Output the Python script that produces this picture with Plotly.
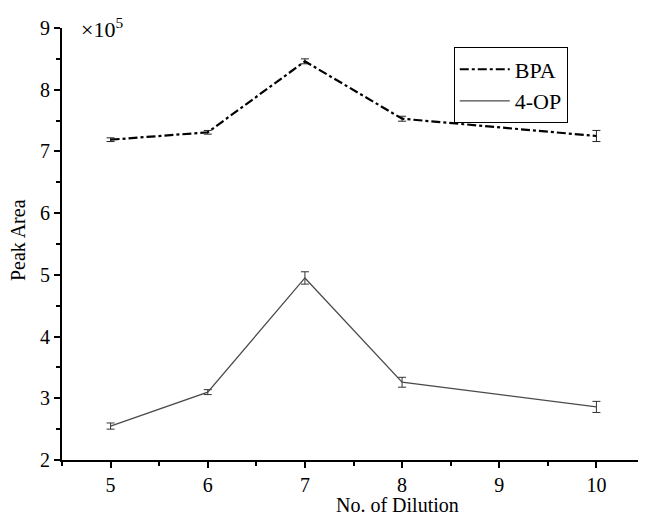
import plotly.graph_objects as go

dilution = [5, 6, 7, 8, 10]
bpa = [7.19, 7.31, 8.46, 7.53, 7.25]
bpa_err = [0.03, 0.03, 0.04, 0.04, 0.09]
op = [2.55, 3.10, 4.95, 3.26, 2.86]
op_err = [0.05, 0.04, 0.10, 0.08, 0.09]
x_ticks = [5, 6, 7, 8, 9, 10]
y_ticks = [2, 3, 4, 5, 6, 7, 8, 9]

FONT = "Liberation Serif"

fig = go.Figure()
fig.add_trace(go.Scatter(
    x=dilution, y=bpa, name="BPA", mode="lines",
    line=dict(color="black", width=2.2, dash="dashdot"),
    error_y=dict(type="data", array=bpa_err, color="#222", thickness=1, width=4),
))
fig.add_trace(go.Scatter(
    x=dilution, y=op, name="4-OP", mode="lines",
    line=dict(color="#4a4a4a", width=1.3),
    error_y=dict(type="data", array=op_err, color="#333", thickness=1, width=4),
))

axis_common = dict(
    showline=True, linecolor="black", linewidth=2, ticks="outside",
    ticklen=6, tickwidth=1.5, tickcolor="black", showgrid=False, zeroline=False,
    tickfont=dict(family=FONT, size=20, color="black"),
    mirror=False, automargin=False,
)
fig.update_layout(
    width=638, height=509,
    margin=dict(l=54, r=1, t=20, b=57),
    plot_bgcolor="white", paper_bgcolor="white",
    font=dict(family=FONT, color="black"),
    xaxis=dict(range=[4.5, 10.5], tickvals=x_ticks,
               minor=dict(dtick=0.5, tick0=4.5, ticks="outside", ticklen=4, tickwidth=1.5, tickcolor="black"),
               **axis_common),
    yaxis=dict(range=[2, 9], tickvals=y_ticks,
               minor=dict(dtick=0.5, tick0=2, ticks="outside", ticklen=4, tickwidth=1.5, tickcolor="black"),
               **axis_common),
    legend=dict(x=0.672, y=0.955, xanchor="left", yanchor="top",
                bordercolor="black", borderwidth=1, bgcolor="white",
                font=dict(family=FONT, size=22), itemwidth=50, tracegroupgap=0),
    showlegend=True,
)
fig.add_annotation(x=0.575, y=-0.104, xref="paper", yref="paper", xanchor="center", yanchor="middle",
                   text="No. of Dilution", showarrow=False,
                   font=dict(family=FONT, size=20, color="black"))
fig.add_annotation(x=-0.0755, y=0.509, xref="paper", yref="paper", xanchor="center", yanchor="middle",
                   text="Peak Area", showarrow=False, textangle=-90,
                   font=dict(family=FONT, size=20, color="black"))
fig.add_annotation(x=0.03, y=1.0, xref="paper", yref="paper", xanchor="left", yanchor="middle",
                   text="×10<sup>5</sup>", showarrow=False,
                   font=dict(family=FONT, size=22, color="black"))
fig.write_html("out.html")
